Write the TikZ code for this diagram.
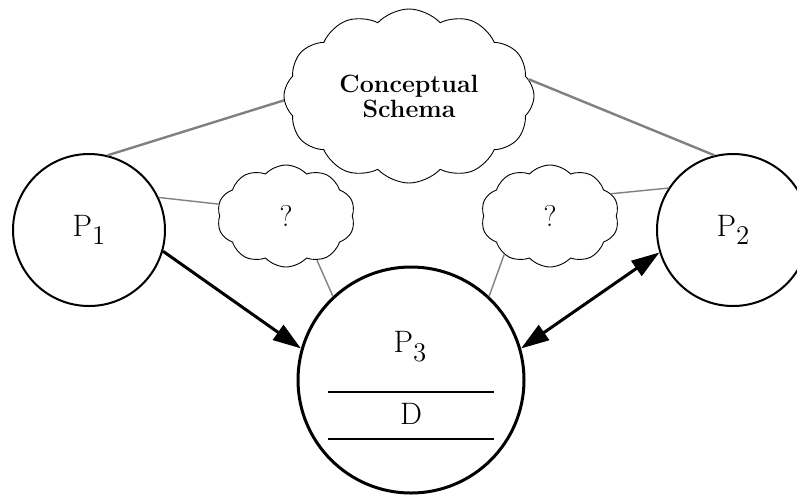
\documentclass[tikz,border=0pt]{standalone}
\usepackage{fontspec}
\usepackage{tikz}
\usetikzlibrary{arrows.meta,shapes.symbols,positioning}
\newcommand{\proclabel}[1]{P\raisebox{-0.28em}{\fontsize{13.5}{14}\selectfont #1}}
\tikzset{
  proc/.style={circle, draw=black, line width=1pt, minimum size=#1,
               inner sep=0pt, font=\fontsize{15.5}{18}\selectfont},
  puff/.style={cloud, cloud ignores aspect, draw=black, line width=0.45pt,
               cloud puffs=#1, cloud puff arc=95, inner sep=0pt, align=center},
  link/.style={draw=black!50, line width=0.7pt},
  thicklink/.style={draw=black!50, line width=1.2pt},
  arr/.style={-{Triangle[length=14pt,width=9pt]}, line width=1.5pt},
}

\begin{document}
\begin{tikzpicture}[x=0.5pt,y=-0.5pt]
  \useasboundingbox (0,0) rectangle (797,494);
  % processes
  \node[proc=76pt] (P1) at (89,230) {\proclabel{1}};
  \node[proc=76pt] (P2) at (733,230) {\proclabel{2}};
  \node[proc=113pt, line width=1.5pt] (P3) at (411,380) {};
  \node[font=\fontsize{15.5}{18}\selectfont] (P3lbl) at (410,347) {\proclabel{3}};
  \node[font=\fontsize{15.5}{18}\selectfont] (Dlbl) at (411,414) {D};
  \draw[line width=1pt] (328,392) -- (494,392);
  \draw[line width=1pt] (328,439) -- (494,439);
  % clouds
  \node[puff=12, minimum width=125pt, minimum height=87pt,
        font=\fontsize{12.5}{12.5}\selectfont\bfseries] (CS) at (409,96) {Conceptual\\Schema};
  \node[puff=10, minimum width=69pt, minimum height=51pt,
        font=\fontsize{15}{17}\selectfont] (Q1) at (286,216) {?};
  \node[puff=10, minimum width=69pt, minimum height=51pt,
        font=\fontsize{15}{17}\selectfont] (Q2) at (550,216) {?};
  % links to the schema
  \draw[thicklink] (P1.76) -- (CS.182);
  \draw[thicklink] (CS.8) -- (P2.104);
  % links to the unknowns
  \draw[link] (P1.25) -- (Q1.170);
  \draw[link] (Q1.-55) -- (P3.133);
  \draw[link] (Q2.-140) -- (P3.47);
  \draw[link] (Q2.20) -- (P2.147);
  % flows
  \draw[arr] (P1.-16) -- (P3.164);
  \draw[arr, {Triangle[length=14pt,width=9pt]}-{Triangle[length=14pt,width=9pt]}] (P3.16) -- (P2.197);
\end{tikzpicture}
\end{document}
